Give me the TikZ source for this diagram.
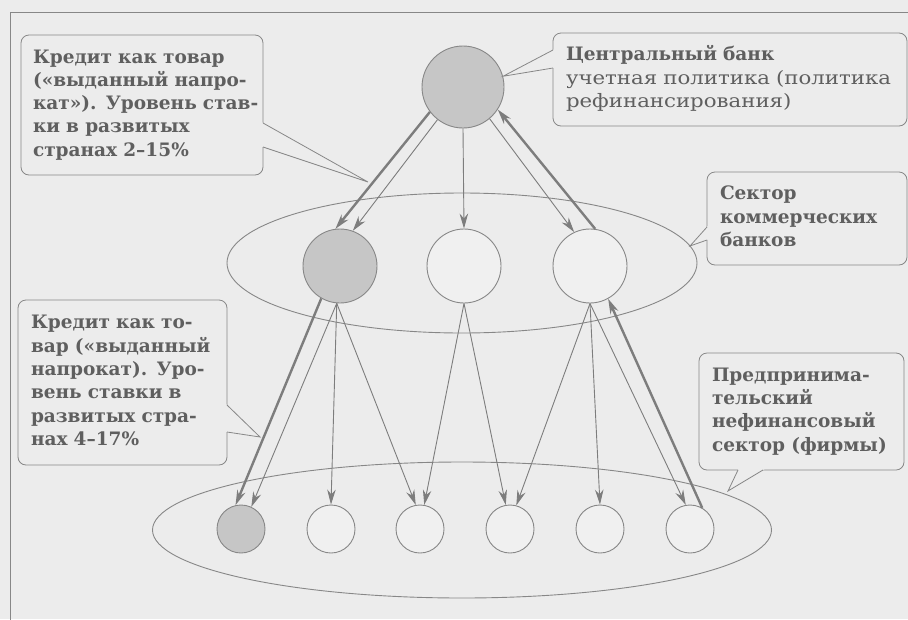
\documentclass[tikz,border=0pt]{standalone}
\usepackage{fontspec}
\setmainfont{DejaVu Serif}
\newfontfamily\shirokij[FakeStretch=1.15]{DejaVu Serif}
\usetikzlibrary{positioning, arrows.meta, shapes.geometric, calc}

\definecolor{fon}{RGB}{236,236,236}
\definecolor{linia}{RGB}{135,135,135}
\definecolor{strelka}{RGB}{125,125,125}
\definecolor{tekst}{RGB}{95,95,95}
\definecolor{zalivka}{RGB}{198,198,198}
\definecolor{svetlo}{RGB}{240,240,240}

\begin{document}
\begin{tikzpicture}[x=1pt, y=-1pt, >={Stealth[length=15pt,width=8.5pt]}] % координаты в пикселях
    % Стили для кругов, эллипсов, стрелок и выносок
    \tikzset{
        krug/.style={
            circle,
            draw=linia,
            line width=0.9pt,
            fill=svetlo,
            inner sep=0pt
        },
        seryj/.style={krug, fill=zalivka},
        sektor/.style={ellipse, draw=linia, line width=0.9pt, inner sep=0pt},
        tonkaja/.style={draw=strelka, line width=0.9pt, ->},
        tolstaja/.style={draw=strelka, line width=2.4pt, ->},
        ramka/.style={draw=linia, line width=0.8pt},
        vynos/.style={
            ramka,
            fill=fon,
            rounded corners=8pt,
            inner xsep=12pt,
            inner ysep=0pt,
            align=left,
            text=tekst,
            font=\fontsize{18.5}{23.3}\selectfont
        }
    }

    % Фон и рамка страницы
    \useasboundingbox[fill=fon] (0,0) rectangle (908,619);
    \draw[ramka] (10,640) -- (10,12) -- (930,12);

    % --- Секторы (эллипсы) ---
    \node[sektor, minimum width=470, minimum height=140] (kombanki) at (462,263) {};
    \node[sektor, minimum width=619, minimum height=136] (firmy) at (462,530) {};

    % --- Центральный банк и коммерческие банки ---
    \node[seryj, minimum size=82] (cb) at (463,87) {};
    \node[seryj, minimum size=74] (kb1) at (340,266) {};
    \node[krug, minimum size=74] (kb2) at (464,266) {};
    \node[krug, minimum size=74] (kb3) at (590,266) {};

    % --- Фирмы ---
    \node[seryj, minimum size=48] (f1) at (241,529) {};
    \foreach \i/\x in {2/331, 3/420, 4/510, 5/600, 6/690}
        \node[krug, minimum size=48] (f\i) at (\x,529) {};

    % --- Стрелки: центральный банк <-> коммерческие банки ---
    \draw[tolstaja] (cb.217) -- (kb1.97);
    \draw[tonkaja] (cb.232) -- (kb1.70);
    \draw[tonkaja] (cb.270) -- (kb2.90);
    \draw[tonkaja] (cb.310) -- (kb3.115);
    \draw[tolstaja] (kb3.82) -- (cb.327);

    % --- Стрелки: коммерческие банки <-> фирмы ---
    \draw[tolstaja] (kb1.240) -- (f1.103);
    \foreach \i/\a in {1/65, 2/90, 3/100}
        \draw[tonkaja] (kb1.265) -- (f\i.\a);
    \foreach \i/\a in {3/80, 4/100}
        \draw[tonkaja] (kb2.270) -- (f\i.\a);
    \foreach \i/\a in {4/75, 5/90, 6/100}
        \draw[tonkaja] (kb3.270) -- (f\i.\a);
    \draw[tolstaja] (f6.60) -- (kb3.-61);

    % --- Выноски ---
    \node[vynos, text width=218, minimum height=140] (kredit1) at (142,105) {\bfseries
        \begin{tabular}{@{}l@{}}
        Кредит как товар\\
        («выданный напро-\\
        кат»). Уровень став-\\
        ки в развитых\\
        странах 2–15\%
        \end{tabular}};
    \node[vynos, inner xsep=13pt, text width=328, minimum height=93] (cbtekst) at (730,79.5) {%
        \begin{tabular}{@{}l@{}}
        \textbf{Центральный банк}\\
        {\shirokij учетная политика (политика}\\
        {\shirokij рефинансирования)}
        \end{tabular}};
    \node[vynos, inner xsep=13pt, text width=174, minimum height=93] (kbtekst) at (807,218.5) {\bfseries
        \begin{tabular}{@{}l@{}}
        Сектор\\
        коммерческих\\
        банков
        \end{tabular}};
    \node[vynos, inner xsep=13pt, text width=183, minimum height=165] (kredit2) at (122.5,382.5) {\bfseries
        \begin{tabular}{@{}l@{}}
        Кредит как то-\\
        вар («выданный\\
        напрокат). Уро-\\
        вень ставки в\\
        развитых стра-\\
        нах 4–17\%
        \end{tabular}};
    \node[vynos, inner xsep=13pt, text width=179, minimum height=117] (firmtekst) at (801.5,411.5) {\bfseries
        \begin{tabular}{@{}l@{}}
        Предпринима-\\
        тельский\\
        нефинансовый\\
        сектор (фирмы)
        \end{tabular}};

    % Хвосты выносок: основание на рамке, острие у объекта
    \coordinate (o1) at (368,182);
    \coordinate (o3) at (690,246);
    \coordinate (o4) at (260,437);
    \coordinate (o5) at (728,491);
    \foreach \a/\b/\o in {{263,123}/{263,147}/o1, {553,50}/{553,68}/cb.15,
                          {707,227}/{707,240}/o3, {227,405}/{227,432}/o4,
                          {738,470}/{763,470}/o5} {
        \fill[fon] ($(\a)!-2pt!(\o)$) -- (\o) -- ($(\b)!-2pt!(\o)$) -- cycle;
        \draw[ramka] (\a) -- (\o) -- (\b);
    }

\end{tikzpicture}
\end{document}
